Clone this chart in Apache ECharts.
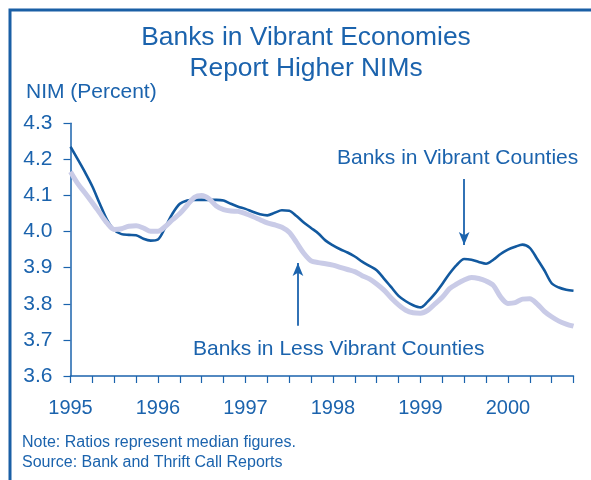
<!DOCTYPE html>
<html>
<head>
<meta charset="utf-8">
<script src="https://cdn.jsdelivr.net/npm/echarts@6/dist/echarts.min.js"></script>
<style>
  html, body { margin: 0; padding: 0; background: #ffffff; }
  #chart { width: 591px; height: 480px; }
</style>
</head>
<body>
<div id="chart"></div>
<script>
// Median net interest margin (percent), monthly from Jan 1995 to Oct 2000
const startYear = 1995;
const months = 70;

const vibrant = [
  4.235, 4.200, 4.164, 4.125, 4.078, 4.033, 4.004, 3.993, 3.991, 3.990, 3.980, 3.975,
  3.978, 4.012, 4.050, 4.077, 4.086, 4.088, 4.088, 4.088, 4.088, 4.086, 4.077, 4.069,
  4.063, 4.055, 4.048, 4.045, 4.052, 4.059, 4.058, 4.043, 4.025, 4.010, 3.995, 3.975,
  3.962, 3.951, 3.942, 3.931, 3.917, 3.905, 3.893, 3.870, 3.846, 3.822, 3.807, 3.796,
  3.790, 3.806, 3.828, 3.855, 3.884, 3.908, 3.924, 3.922, 3.916, 3.911, 3.922, 3.938,
  3.950, 3.958, 3.964, 3.955, 3.925, 3.893, 3.857, 3.845, 3.839, 3.836
];

const lessVibrant = [
  4.166, 4.133, 4.107, 4.080, 4.052, 4.024, 4.006, 4.008, 4.015, 4.016, 4.010, 4.001,
  4.001, 4.014, 4.033, 4.050, 4.073, 4.095, 4.100, 4.091, 4.071, 4.061, 4.057, 4.056,
  4.050, 4.042, 4.033, 4.024, 4.019, 4.012, 3.998, 3.970, 3.940, 3.919, 3.914, 3.911,
  3.907, 3.901, 3.895, 3.889, 3.878, 3.869, 3.855, 3.838, 3.816, 3.797, 3.782, 3.775,
  3.774, 3.782, 3.800, 3.818, 3.842, 3.855, 3.866, 3.873, 3.870, 3.863, 3.851, 3.819,
  3.801, 3.803, 3.813, 3.814, 3.800, 3.779, 3.764, 3.752, 3.744, 3.738
];

const yearLabels = ['1995', '1996', '1997', '1998', '1999', '2000'];
const yTicks = { min: 3.6, max: 4.3, step: 0.1 };

// Arrow annotations in data space: [x, yFrom, yTo]
const vibrantArrow = [1999.5, 4.146, 3.963];
const lessArrow = [1997.6, 3.739, 3.913];

const blue = '#1b63ad';
const darkLine = '#12599f';
const lightLine = '#c9cbe7';
const font = '"Liberation Sans", Arial, Helvetica, sans-serif';

const toPairs = vals => vals.map((v, i) => [startYear + i / 12, v]);

function arrowLine(a) {
  return [
    { coord: [a[0], a[1]], symbol: 'none' },
    { coord: [a[0], a[2]], symbol: 'arrow', symbolSize: [8, 13] }
  ];
}

function label(text, x, y, size) {
  return {
    type: 'text',
    style: {
      x: x, y: y,
      text: text,
      font: size + 'px ' + font,
      fill: blue,
      align: 'left',
      verticalAlign: 'middle'
    }
  };
}

const chart = echarts.init(document.getElementById('chart'), null, { renderer: 'canvas' });

chart.setOption({
  animation: false,
  backgroundColor: '#ffffff',
  textStyle: { fontFamily: font },
  grid: { left: 70.5, right: 17.5, top: 123.3, bottom: 104 },
  xAxis: {
    type: 'value',
    min: 1995,
    max: 1995 + (months - 1) / 12,
    interval: 0.25,
    axisLine: { lineStyle: { color: blue, width: 1.5 } },
    axisTick: { show: true, length: 7, lineStyle: { color: blue, width: 1.2 } },
    splitLine: { show: false },
    axisLabel: {
      margin: 22,
      color: blue,
      fontSize: 20,
      fontFamily: font,
      showMinLabel: true,
      showMaxLabel: true,
      formatter: v => {
        const y = Math.round(v);
        return Math.abs(v - y) < 1e-6 && yearLabels.includes(String(y)) ? String(y) : '';
      }
    }
  },
  yAxis: {
    type: 'value',
    min: yTicks.min,
    max: yTicks.max,
    interval: yTicks.step,
    axisLine: { show: true, lineStyle: { color: blue, width: 1.5 } },
    axisTick: { show: true, length: 7, lineStyle: { color: blue, width: 1.2 } },
    splitLine: { show: false },
    axisLabel: {
      margin: 18,
      color: blue,
      fontSize: 21,
      fontFamily: font,
      formatter: v => v.toFixed(1)
    }
  },
  series: [
    {
      name: 'Banks in Vibrant Counties',
      type: 'line',
      data: toPairs(vibrant),
      smooth: 0.3,
      showSymbol: false,
      lineStyle: { color: darkLine, width: 2.6 },
      z: 2,
      markLine: {
        silent: true,
        animation: false,
        label: { show: false },
        lineStyle: { color: blue, width: 1.8, type: 'solid' },
        data: [arrowLine(vibrantArrow), arrowLine(lessArrow)]
      }
    },
    {
      name: 'Banks in Less Vibrant Counties',
      type: 'line',
      data: toPairs(lessVibrant),
      smooth: 0.3,
      showSymbol: false,
      lineStyle: { color: lightLine, width: 5 },
      z: 3
    }
  ],
  graphic: [
    {
      type: 'polyline',
      shape: { points: [[10, 480], [10, 10], [591, 10]] },
      style: { stroke: '#1a5fa5', lineWidth: 3, fill: null }
    },
    {
      type: 'text',
      style: {
        x: 306, y: 22,
        text: 'Banks in Vibrant Economies\nReport Higher NIMs',
        font: '26.4px ' + font,
        fill: blue,
        align: 'center',
        verticalAlign: 'top',
        lineHeight: 31
      }
    },
    label('NIM (Percent)', 26, 92, 21),
    label('Banks in Vibrant Counties', 337, 158, 21),
    label('Banks in Less Vibrant Counties', 193, 349, 21),
    label('Note: Ratios represent median figures.', 22, 443, 16),
    label('Source: Bank and Thrift Call Reports', 22, 463, 16)
  ]
});
</script>
</body>
</html>
